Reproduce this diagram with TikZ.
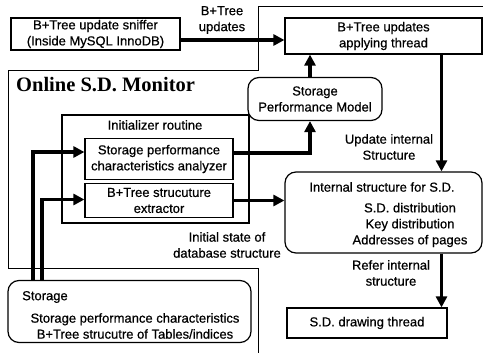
\documentclass[tikz,border=0pt]{standalone}
\usepackage{fontspec}
\setmainfont{Liberation Sans}[FakeBold=0.6]
\newfontfamily\titlefont{Liberation Serif}
\usetikzlibrary{arrows.meta}

\tikzset{
  txt/.style={font=\fontsize{13}{16}\selectfont, inner sep=0pt, align=center},
  box/.style={txt, draw, line width=1.2pt},
  rbox/.style={box, rounded corners=11pt},
  arr/.style={line width=3.2pt, -{Triangle[length=11pt,width=11pt]}},
  frame/.style={line width=1pt}
}

\begin{document}
\begin{tikzpicture}[x=1pt,y=-1pt]
\useasboundingbox (0,0) rectangle (490,353);

% outline of the monitor process
\draw[frame] (258,353) -- (258,268) -- (8,268) -- (8,71) -- (258,71) -- (258,7) -- (483,7);
\node[anchor=base west, inner sep=0pt, font=\titlefont\bfseries\fontsize{20.5}{24}\selectfont] (mon) at (16,92) {Online S.D. Monitor};

% boxes
\node[box, minimum width=169pt, minimum height=32pt] (sn) at (95.5,34) {B+Tree update sniffer\\(Inside MySQL InnoDB)};
\node[box, minimum width=197pt, minimum height=36pt] (ap) at (383.5,36) {B+Tree updates\\applying thread};
\node[rbox, minimum width=134pt, minimum height=43pt] (spm) at (315,99) {Storage\\Performance Model};

\node[box, minimum width=187pt, minimum height=108pt] (ini) at (155.5,169) {};
\node[txt] (inil) at (155,125) {Initializer routine};
\node[box, minimum width=148pt, minimum height=41pt] (an) at (159,159) {Storage performance\\characteristics analyzer};
\node[box, minimum width=148pt, minimum height=34pt] (ex) at (159,200.5) {B+Tree strucuture\\extractor};

\node[rbox, minimum width=197pt, minimum height=81pt] (in) at (383.5,212.5) {};
\node[txt] (inl) at (382,187) {Internal structure for S.D.};
\node[txt] (inc) at (410,225) {S.D. distribution\\Key distribution\\Addresses of pages};

\node[box, minimum width=160pt, minimum height=30pt] (dr) at (367,323) {S.D. drawing thread};

\node[rbox, minimum width=243pt, minimum height=62pt] (st) at (129.5,311.5) {};
\node[txt, anchor=west] (stl) at (22,297) {Storage};
\node[txt] (stc) at (135,326) {Storage performance characteristics\\B+Tree strucutre of Tables/indices};

% connector labels
\node[txt] (l1) at (222,20) {B+Tree\\updates};
\node[txt] (l2) at (389,147) {Update internal\\Structure};
\node[txt] (l3) at (227,245) {Initial state of\\database structure};
\node[txt] (l4) at (391,273) {Refer internal\\structure};

% connectors
\coordinate (c1) at (33,0);
\coordinate (c2) at (42,0);
\draw[arr] ([yshift=-6pt]sn.east) -- ([yshift=-6pt]sn.east -| ap.west);
\draw[arr] ([xshift=-5pt]spm.north) -- ([xshift=-5pt]spm.north |- ap.south);
\draw[arr] ([yshift=6pt]an.east) -| ([xshift=-5pt]spm.south);
\draw[arr] (ex.east) -- (ex.east -| in.west);
\draw[arr] ([xshift=58pt]ap.south) -- ([xshift=58pt]ap.south |- in.north);
\draw[arr] ([xshift=58pt]in.south) -- ([xshift=58pt]in.south |- dr.north);
\draw[arr] (st.north -| c1) |- ([yshift=7pt]an.west);
\draw[arr] (st.north -| c2) |- ([yshift=1pt]ex.west);
\end{tikzpicture}
\end{document}
